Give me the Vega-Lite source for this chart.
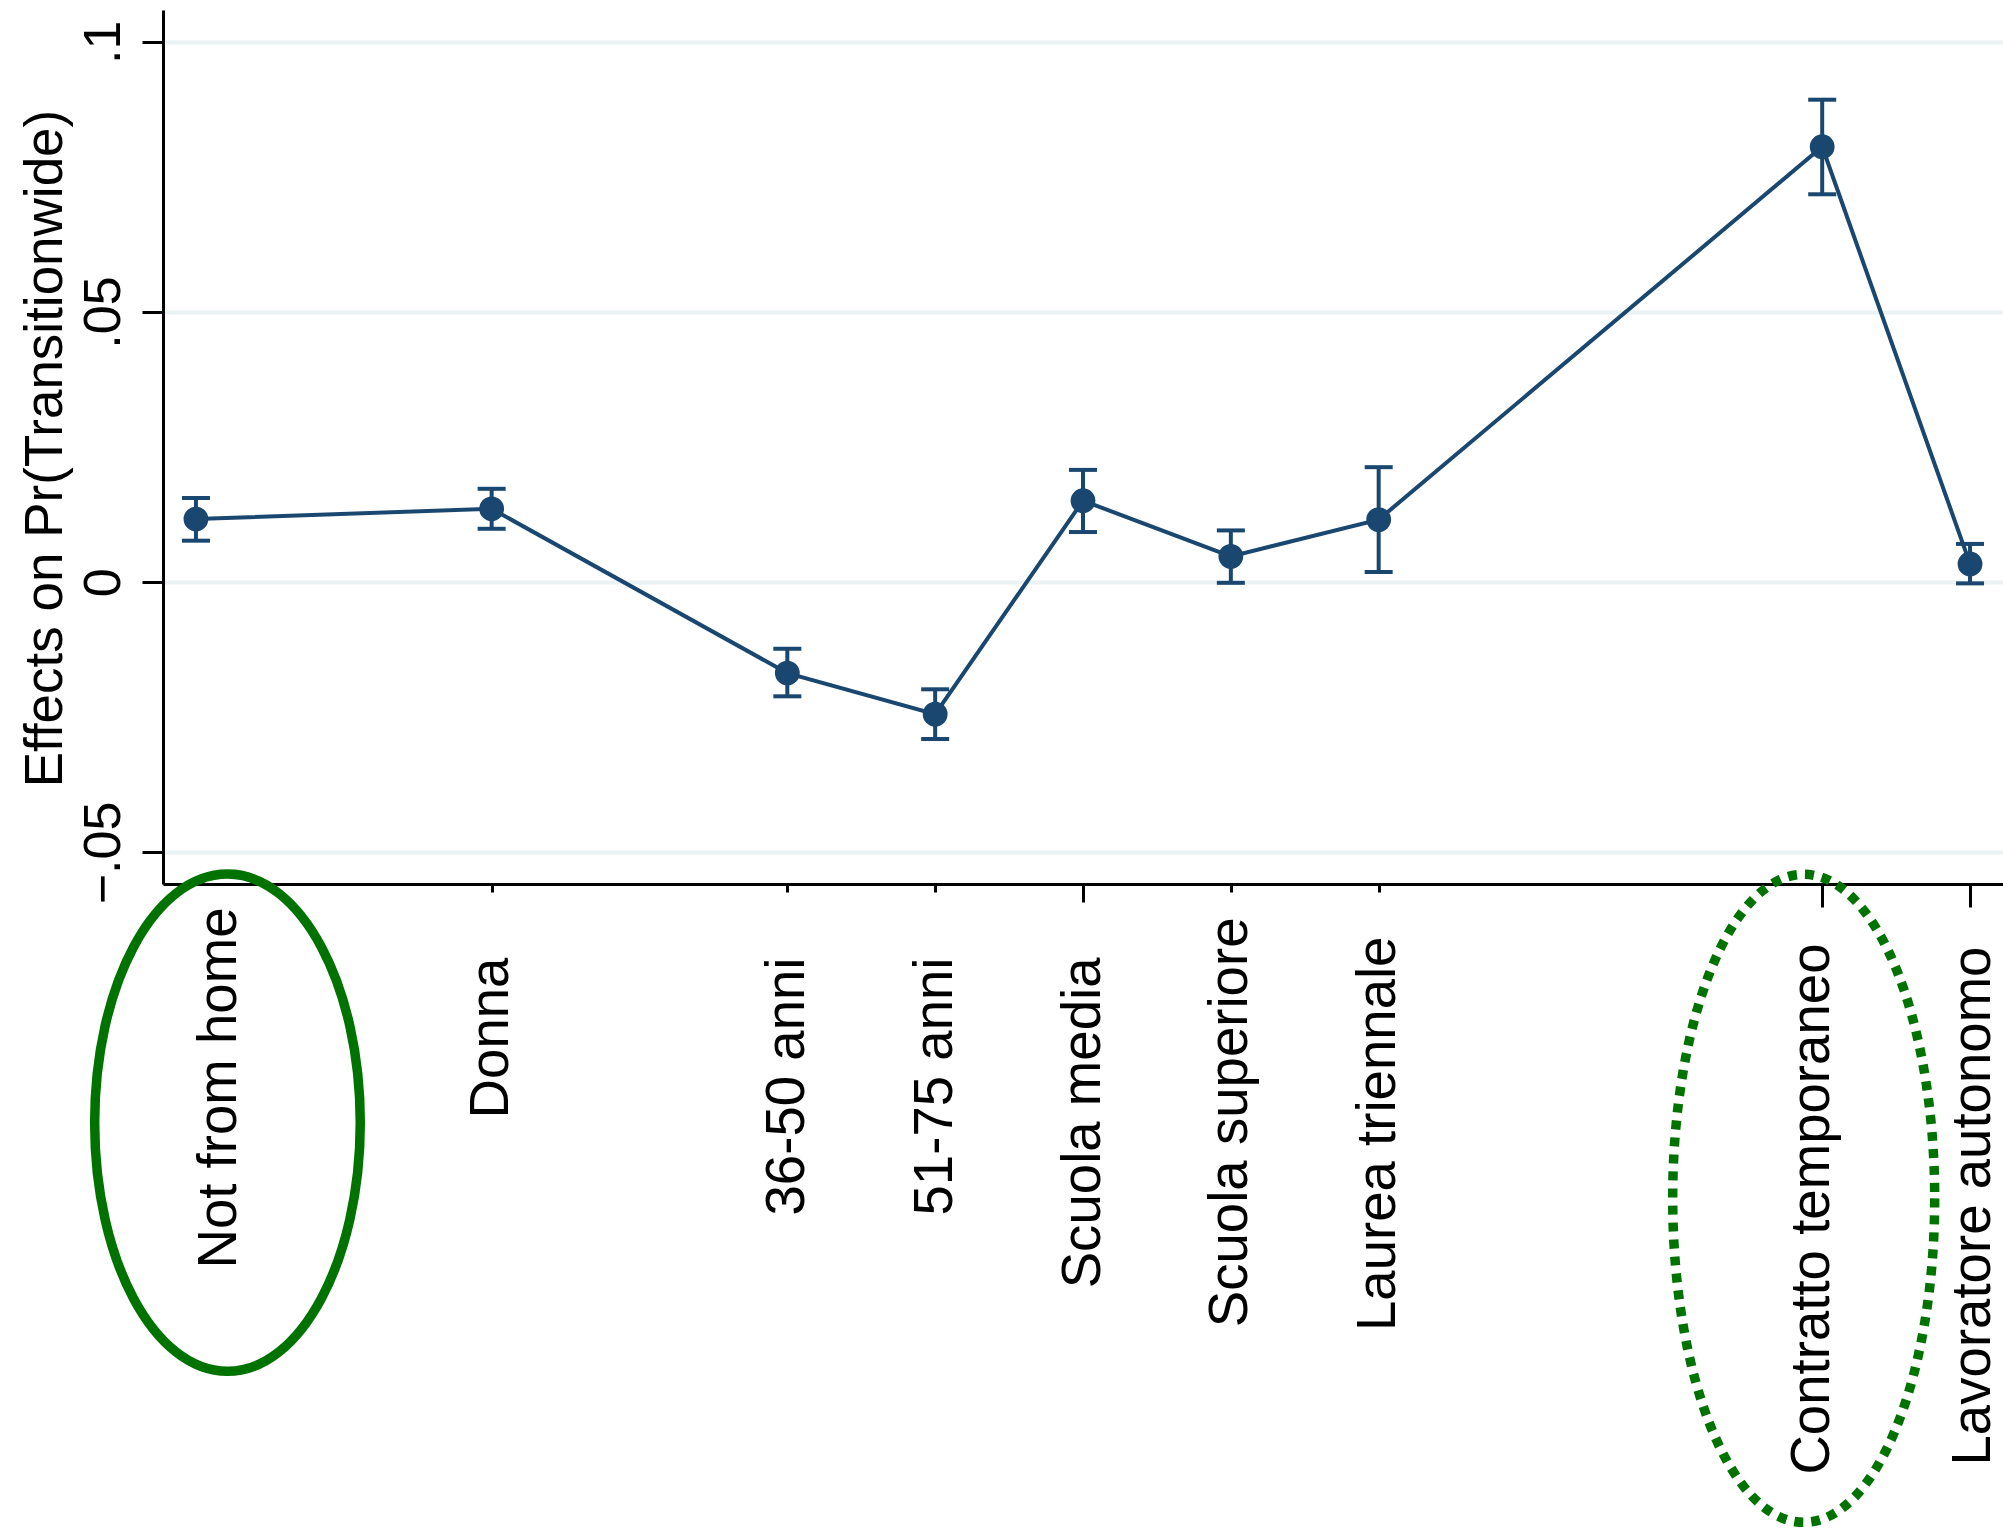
{
  "$schema": "https://vega.github.io/schema/vega-lite/v6.json",
  "autosize": {"type": "none"},
  "padding": {"left": 163, "top": 10, "right": 0, "bottom": 653},
  "width": 1840,
  "height": 874,
  "background": "white",
  "config": {
    "view": {"stroke": null},
    "font": "Liberation Sans"
  },
  "data": {
    "values": [
      {"term": "Not from home", "b": 0.0117, "lo": 0.0077, "hi": 0.0156},
      {"term": "Donna", "b": 0.0136, "lo": 0.0099, "hi": 0.0173},
      {"term": "36-50 anni", "b": -0.0168, "lo": -0.0211, "hi": -0.0123},
      {"term": "51-75 anni", "b": -0.0244, "lo": -0.0290, "hi": -0.0198},
      {"term": "Scuola media", "b": 0.0151, "lo": 0.0093, "hi": 0.0208},
      {"term": "Scuola superiore", "b": 0.0048, "lo": -0.0001, "hi": 0.0096},
      {"term": "Laurea triennale", "b": 0.0116, "lo": 0.0019, "hi": 0.0213},
      {"term": "Contratto temporaneo", "b": 0.0806, "lo": 0.0718, "hi": 0.0893},
      {"term": "Lavoratore autonomo", "b": 0.0034, "lo": -0.0002, "hi": 0.0071}
    ]
  },
  "encoding": {
    "x": {
      "field": "term",
      "type": "nominal",
      "sort": null,
      "scale": {
        "type": "point",
        "padding": 0.223,
        "domain": ["Not from home", "gap_a", "Donna", "gap_b", "36-50 anni", "51-75 anni", "Scuola media", "Scuola superiore", "Laurea triennale", "gap_c", "gap_d", "Contratto temporaneo", "Lavoratore autonomo"]
      },
      "axis": {
        "title": null,
        "orient": "bottom",
        "domainColor": "black",
        "domainWidth": 3,
        "labelExpr": "indexof(datum.value, 'gap_') === 0 ? '' : datum.value",
        "labelFont": "Liberation Sans",
        "labelFontSize": 54.6,
        "labelColor": "black",
        "labelAngle": 270,
        "labelAlign": "right",
        "labelBaseline": "middle",
        "labelLimit": 0,
        "labelOverlap": false,
        "labelFlush": false,
        "labelBound": false,
        "tickColor": "black",
        "tickWidth": 3,
        "tickOpacity": {
          "condition": {"test": "indexof(datum.value, 'gap_') === 0 || datum.value === 'Not from home'", "value": 0},
          "value": 1
        },
        "tickSize": {
          "condition": [
            {"test": "datum.value === 'Scuola media'", "value": 18},
            {"test": "datum.value === 'Contratto temporaneo' || datum.value === 'Lavoratore autonomo'", "value": 23}
          ],
          "value": 8
        },
        "labelPadding": {
          "condition": [
            {"test": "datum.value === 'Not from home'", "value": 15},
            {"test": "datum.value === 'Donna'", "value": 65},
            {"test": "datum.value === '36-50 anni' || datum.value === '51-75 anni'", "value": 65},
            {"test": "datum.value === 'Scuola media'", "value": 55},
            {"test": "datum.value === 'Scuola superiore'", "value": 25},
            {"test": "datum.value === 'Laurea triennale'", "value": 44},
            {"test": "datum.value === 'Contratto temporaneo'", "value": 36},
            {"test": "datum.value === 'Lavoratore autonomo'", "value": 39}
          ],
          "value": 40
        },
        "labelOffset": {
          "condition": [
            {"test": "datum.value === 'Not from home'", "value": 24},
            {"test": "datum.value === 'Contratto temporaneo'", "value": -10},
            {"test": "datum.value === 'Lavoratore autonomo'", "value": 3}
          ],
          "value": 0
        }
      }
    }
  },
  "layer": [
    {
      "mark": {"type": "line", "color": "#1a476f", "strokeWidth": 4},
      "encoding": {
        "y": {
          "field": "b",
          "type": "quantitative",
          "scale": {"domain": [-0.05583, 0.1059], "nice": false, "zero": false},
          "axis": {
            "title": "Effects on Pr(Transitionwide)",
            "orient": "left",
            "values": [-0.05, 0, 0.05, 0.1],
            "labelExpr": "replace(format(datum.value, '~g'), '0.', '.')",
            "labelFont": "Liberation Sans",
            "labelFontSize": 52,
            "labelColor": "black",
            "labelAngle": 270,
            "labelAlign": "center",
            "labelBaseline": "alphabetic",
            "labelPadding": 23,
            "labelOverlap": false,
            "labelFlush": false,
            "labelBound": false,
            "tickSize": 21,
            "tickWidth": 3,
            "tickColor": "black",
            "domainColor": "black",
            "domainWidth": 3,
            "grid": true,
            "gridColor": "#eaf2f3",
            "gridWidth": 4,
            "titleFont": "Liberation Sans",
            "titleFontSize": 53,
            "titleFontWeight": "normal",
            "titleColor": "black",
            "titleAngle": 270,
            "titleAlign": "center",
            "titleBaseline": "alphabetic",
            "titleX": -102,
            "titleY": 438
          }
        },
        "order": {"value": null}
      }
    },
    {
      "mark": {"type": "rule", "color": "#1a476f", "strokeWidth": 4},
      "encoding": {
        "y": {"field": "lo", "type": "quantitative"},
        "y2": {"field": "hi"}
      }
    },
    {
      "mark": {"type": "tick", "orient": "horizontal", "color": "#1a476f", "size": 28, "thickness": 4, "opacity": 1},
      "encoding": {"y": {"field": "lo", "type": "quantitative"}}
    },
    {
      "mark": {"type": "tick", "orient": "horizontal", "color": "#1a476f", "size": 28, "thickness": 4, "opacity": 1},
      "encoding": {"y": {"field": "hi", "type": "quantitative"}}
    },
    {
      "mark": {"type": "point", "filled": true, "shape": "circle", "size": 616, "opacity": 1, "color": "#1a476f"},
      "encoding": {"y": {"field": "b", "type": "quantitative"}}
    },
    {
      "transform": [{"filter": "datum.term === 'Not from home'"}],
      "mark": {
        "type": "point",
        "filled": false,
        "opacity": 1,
        "stroke": "#007200",
        "strokeWidth": 9.5,
        "size": 40000,
        "shape": "M 1.643 0 C 1.643 1.373 1.0485 2.486 0.315 2.486 C -0.4185 2.486 -1.013 1.373 -1.013 0 C -1.013 -1.373 -0.4185 -2.486 0.315 -2.486 C 1.0485 -2.486 1.643 -1.373 1.643 0 Z"
      },
      "encoding": {"y": {"datum": -0.1, "type": "quantitative"}}
    },
    {
      "transform": [{"filter": "datum.term === 'Contratto temporaneo'"}],
      "mark": {
        "type": "point",
        "filled": false,
        "opacity": 1,
        "stroke": "#007200",
        "strokeWidth": 9.5,
        "strokeDash": [9, 8],
        "size": 40000,
        "shape": "M 1.125 0 C 1.125 1.7895 0.5385 3.24 -0.185 3.24 C -0.9085 3.24 -1.495 1.7895 -1.495 0 C -1.495 -1.7895 -0.9085 -3.24 -0.185 -3.24 C 0.5385 -3.24 1.125 -1.7895 1.125 0 Z"
      },
      "encoding": {"y": {"datum": -0.114, "type": "quantitative"}}
    }
  ]
}
